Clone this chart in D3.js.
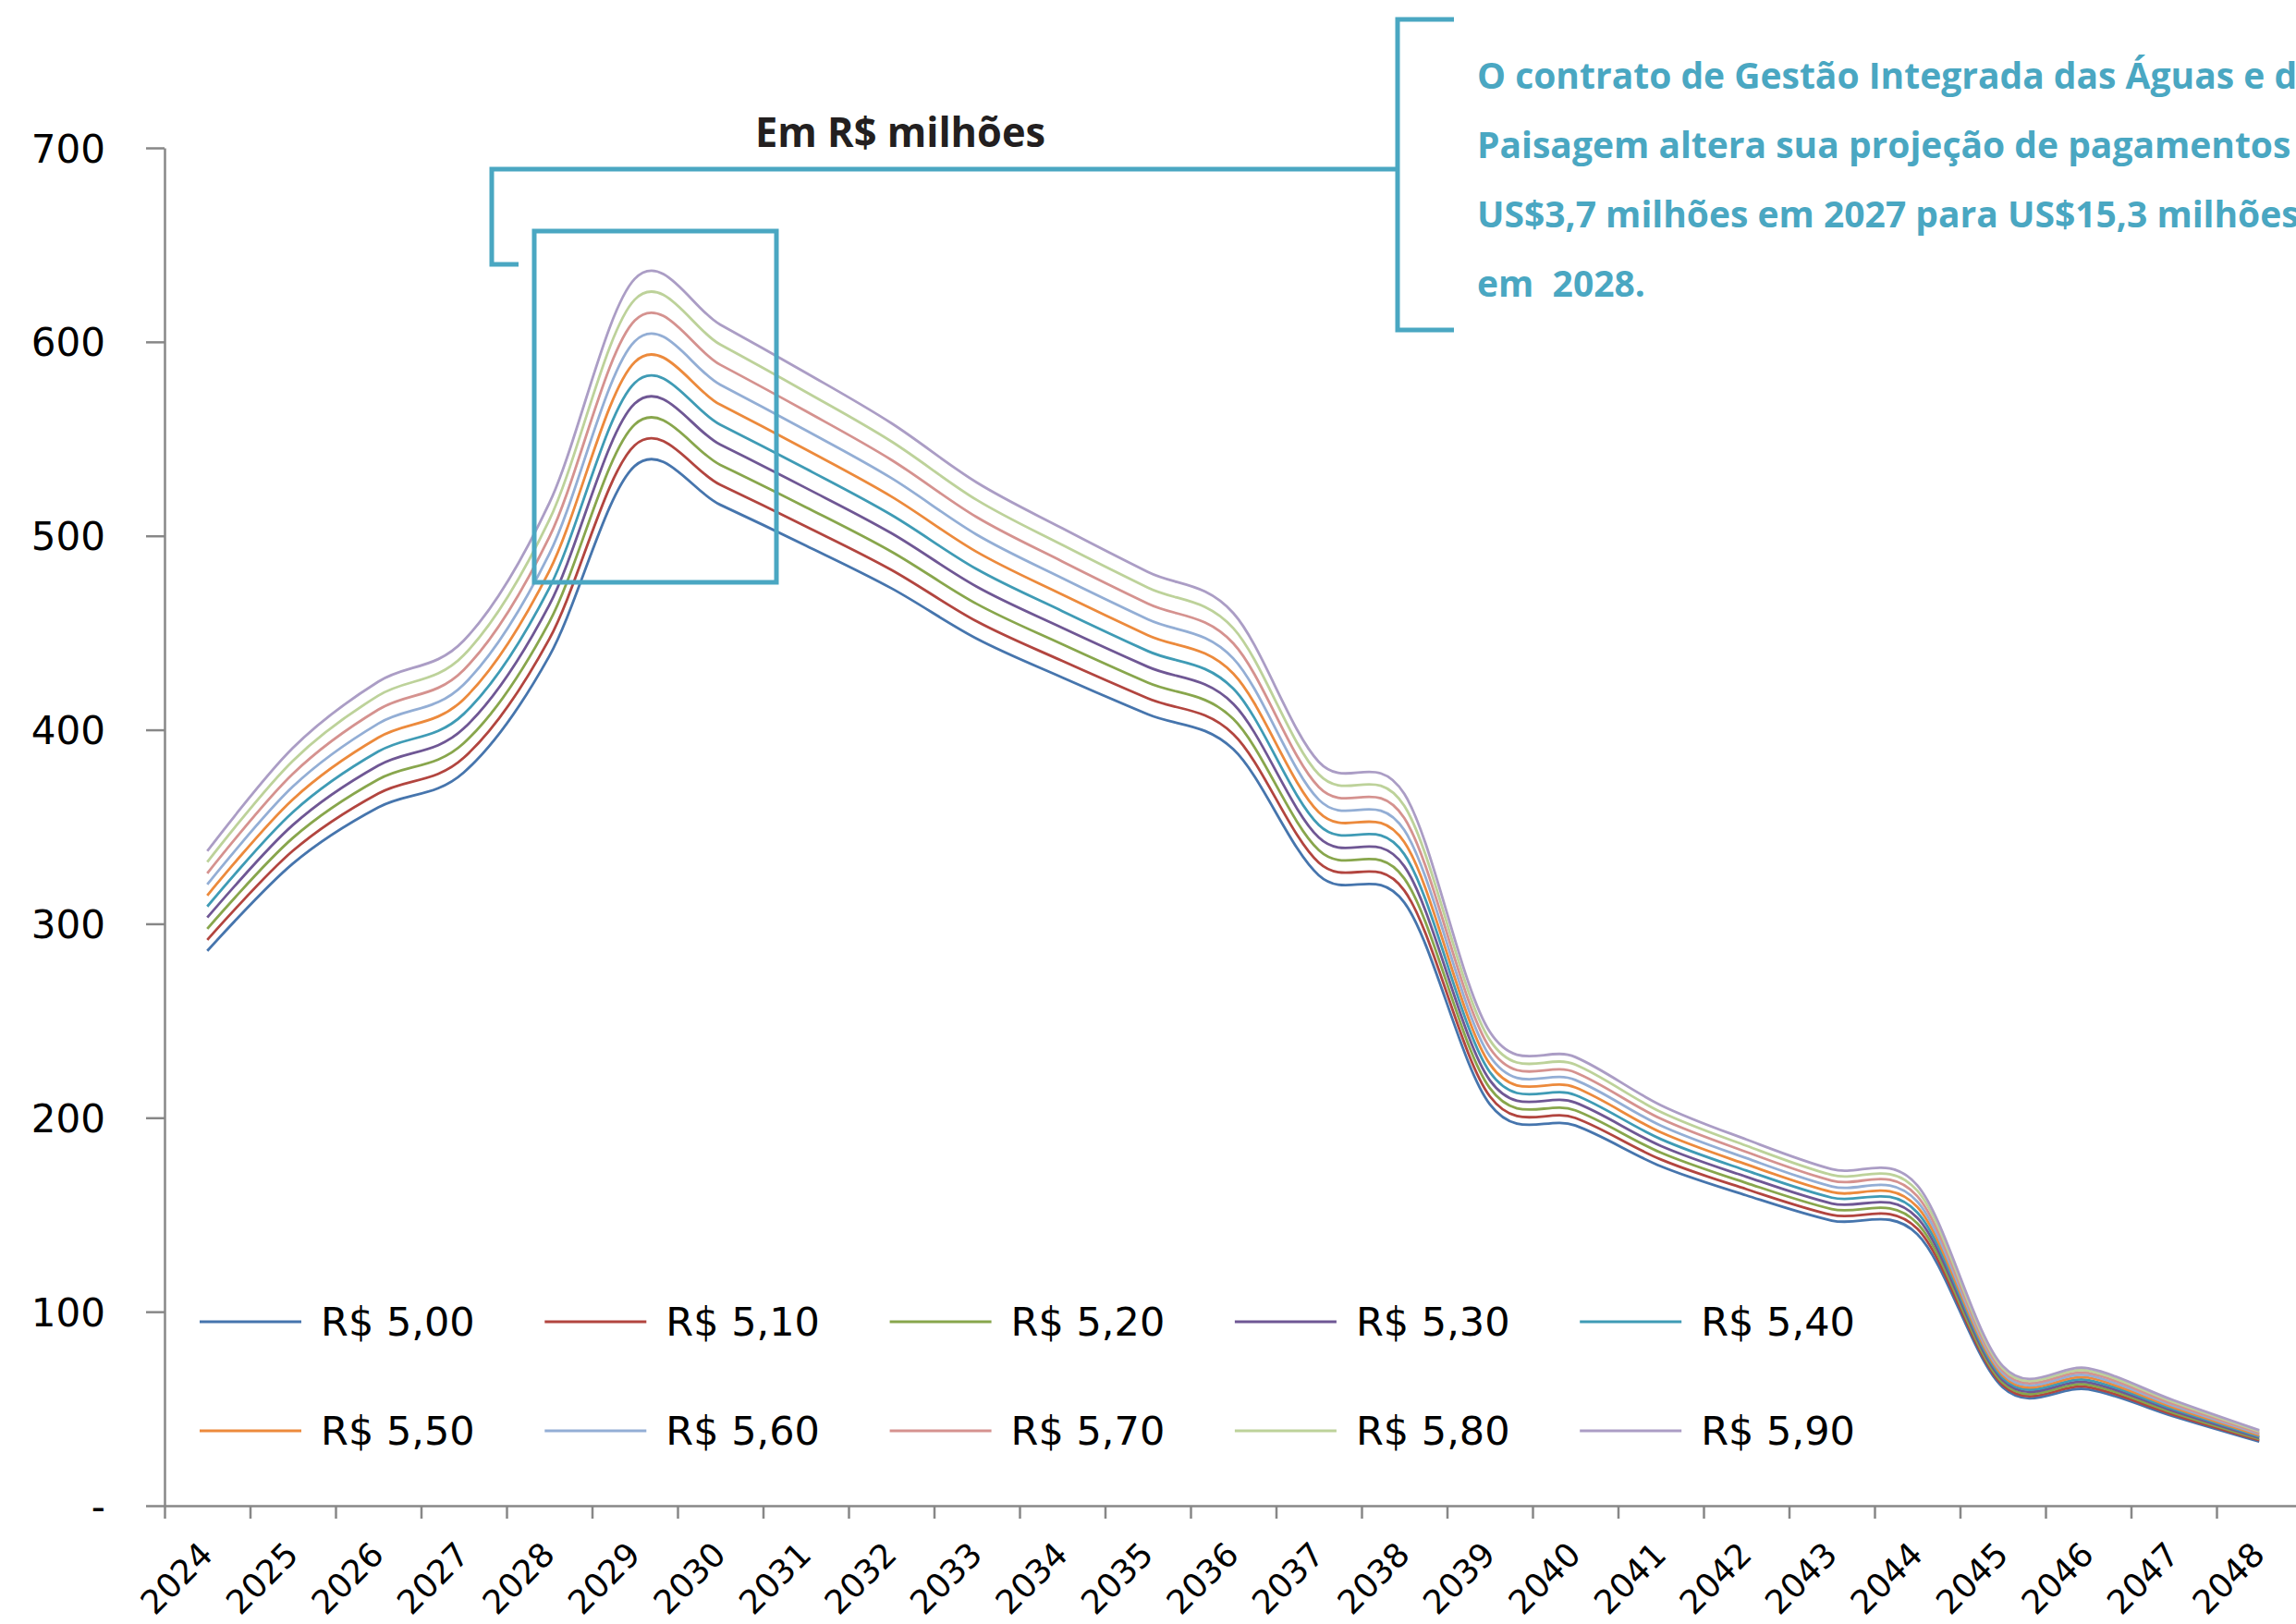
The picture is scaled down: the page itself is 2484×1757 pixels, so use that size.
<!DOCTYPE html>
<html>
<head>
<meta charset="utf-8">
<script src="https://cdn.jsdelivr.net/npm/d3@7"></script>
<style>
  html, body { margin: 0; padding: 0; background: #ffffff; }
  svg { display: block; }
  .axis .domain, .axis line { stroke: #878787; stroke-width: 2.5; }
  .axis text { font-family: "DejaVu Sans", sans-serif; fill: #000; }
</style>
</head>
<body>
<svg id="chart" width="2484" height="1757"></svg>
<script>
// ---------------- data ----------------
const years = ["2024","2025","2026","2027","2028","2029","2030","2031","2032","2033","2034","2035","2036",
               "2037","2038","2039","2040","2041","2042","2043","2044","2045","2046","2047","2048"];
const seriesNames = ["R$ 5,00","R$ 5,10","R$ 5,20","R$ 5,30","R$ 5,40","R$ 5,50","R$ 5,60","R$ 5,70","R$ 5,80","R$ 5,90"];
const s500 = [286.0,331.0,360.0,378.0,438.0,536.0,516.0,495.0,473.0,447.0,427.0,408.0,390.0,325.0,311.0,207.0,196.0,175.0,160.0,147.0,140.0,61.0,60.0,46.0,33.0];
const s510 = [291.7,337.6,367.2,385.6,446.8,546.7,526.3,504.9,482.5,455.9,435.5,416.2,397.8,331.5,317.2,211.1,199.9,178.5,163.2,149.9,142.8,62.2,61.2,46.9,33.7];
const s520 = [297.4,344.2,374.4,393.1,455.5,557.4,536.6,514.8,491.9,464.9,444.1,424.3,405.6,338.0,323.4,215.3,203.8,182.0,166.4,152.9,145.6,63.4,62.4,47.8,34.3];
const s530 = [303.2,350.9,381.6,400.7,464.3,568.2,547.0,524.7,501.4,473.8,452.6,432.5,413.4,344.5,329.7,219.4,207.8,185.5,169.6,155.8,148.4,64.7,63.6,48.8,35.0];
const s540 = [308.9,357.5,388.8,408.2,473.0,578.9,557.3,534.6,510.8,482.8,461.2,440.6,421.2,351.0,335.9,223.6,211.7,189.0,172.8,158.8,151.2,65.9,64.8,49.7,35.6];
const s550 = [314.6,364.1,396.0,415.8,481.8,589.6,567.6,544.5,520.3,491.7,469.7,448.8,429.0,357.5,342.1,227.7,215.6,192.5,176.0,161.7,154.0,67.1,66.0,50.6,36.3];
const s560 = [320.3,370.7,403.2,423.4,490.6,600.3,577.9,554.4,529.8,500.6,478.2,457.0,436.8,364.0,348.3,231.8,219.5,196.0,179.2,164.6,156.8,68.3,67.2,51.5,37.0];
const s570 = [326.0,377.3,410.4,430.9,499.3,611.0,588.2,564.3,539.2,509.6,486.8,465.1,444.6,370.5,354.5,236.0,223.4,199.5,182.4,167.6,159.6,69.5,68.4,52.4,37.6];
const s580 = [331.8,384.0,417.6,438.5,508.1,621.8,598.6,574.2,548.7,518.5,495.3,473.3,452.4,377.0,360.8,240.1,227.4,203.0,185.6,170.5,162.4,70.8,69.6,53.4,38.3];
const s590 = [337.5,390.6,424.8,446.0,516.8,632.5,608.9,584.1,558.1,527.5,503.9,481.4,460.2,383.5,367.0,244.3,231.3,206.5,188.8,173.5,165.2,72.0,70.8,54.3,38.9];
const yTicks = [0,100,200,300,400,500,600,700];
const titleText = "Em R$ milhões";
const noteLines = ["O contrato de Gestão Integrada das Águas e da",
                   "Paisagem altera sua projeção de pagamentos de",
                   "US$3,7 milhões em 2027 para US$15,3 milhões",
                   "em  2028."];

// ---------------- styles ----------------
const colors = ["#4675ad","#b2453f","#88a64c","#6f5794","#3f9bb5","#ec8a3c","#93aed5","#d5928f","#bdd29a","#ab9dc5"];
const teal = "#4aa7c2";

const series = [s500,s510,s520,s530,s540,s550,s560,s570,s580,s590].map((v,i)=>({name: seriesNames[i], values: v, color: colors[i]}));

const svg = d3.select("#chart");
svg.append("rect").attr("width",2484).attr("height",1757).attr("fill","#fff");

const x0 = 178, bw = 92.5;
const x = d3.scaleBand().domain(years).range([x0, x0 + bw*years.length]).paddingInner(0).paddingOuter(0);
const xb = d3.scaleLinear().domain([0, years.length]).range([x0, x0 + bw*years.length]);
const y = d3.scaleLinear().domain([0,700]).range([1629,160]);

// x axis: boundary ticks
svg.append("g").attr("class","axis").attr("transform","translate(0,1629)")
  .call(d3.axisBottom(xb).tickValues(d3.range(0, years.length+1)).tickSize(14).tickSizeOuter(0).tickFormat(""));
// x axis labels
const gxl = svg.append("g").attr("class","axis").attr("transform","translate(0,1629)")
  .call(d3.axisBottom(x).tickSize(0).tickSizeOuter(0));
gxl.select(".domain").remove();
gxl.selectAll("text")
  .attr("x",0).attr("y",0).attr("dy",0)
  .attr("text-anchor","end")
  .attr("font-size",36)
  .attr("transform","translate(8,55) rotate(-45)");

// y axis
const gy = svg.append("g").attr("class","axis").attr("transform",`translate(${x0},0)`)
  .call(d3.axisLeft(y).tickValues(yTicks).tickSize(20).tickSizeOuter(0).tickPadding(44)
        .tickFormat(d => d === 0 ? "-" : d));
gy.selectAll("text").attr("font-size",42).attr("dy","0.36em");

// lines
const line = d3.line()
  .x((d,i) => x(years[i]) + x.bandwidth()/2)
  .y(d => y(d))
  .curve(d3.curveCardinal.tension(0));
svg.append("g").selectAll("path").data(series).join("path")
  .attr("d", d => line(d.values))
  .attr("fill","none")
  .attr("stroke", d => d.color)
  .attr("stroke-width",2.8)
  .attr("stroke-linejoin","round");

// legend
const lg = svg.append("g").selectAll("g").data(series).join("g")
  .attr("transform",(d,i)=>`translate(${216 + (i%5)*373.3},${1430 + Math.floor(i/5)*118})`);
lg.append("line").attr("x1",0).attr("x2",110).attr("y1",0).attr("y2",0)
  .attr("stroke",d=>d.color).attr("stroke-width",3);
lg.append("text").attr("x",131).attr("dy","0.36em")
  .attr("font-family","DejaVu Sans, sans-serif").attr("font-size",43).attr("fill","#000")
  .text(d=>d.name);

// title
svg.append("text").attr("x",817).attr("y",159)
  .attr("font-family","Open Sans, sans-serif").attr("font-weight",700).attr("font-size",45)
  .attr("fill","#231f20").attr("textLength",314).attr("lengthAdjust","spacingAndGlyphs")
  .text(titleText);

// annotation shapes
const ann = svg.append("g").attr("fill","none").attr("stroke",teal).attr("stroke-width",5);
ann.append("rect").attr("x",578).attr("y",250).attr("width",262).attr("height",380);
ann.append("path").attr("d","M561,286 H532 V183 H1512");
ann.append("path").attr("d","M1573,21 H1512 V357 H1573");

// annotation text
svg.append("g").selectAll("text").data(noteLines).join("text")
  .attr("x",1598).attr("y",(d,i)=>96 + i*75)
  .attr("font-family","Open Sans, sans-serif").attr("font-weight",700).attr("font-size",39)
  .attr("fill",teal).style("white-space","pre")
  .text(d=>d);
</script>
</body>
</html>
